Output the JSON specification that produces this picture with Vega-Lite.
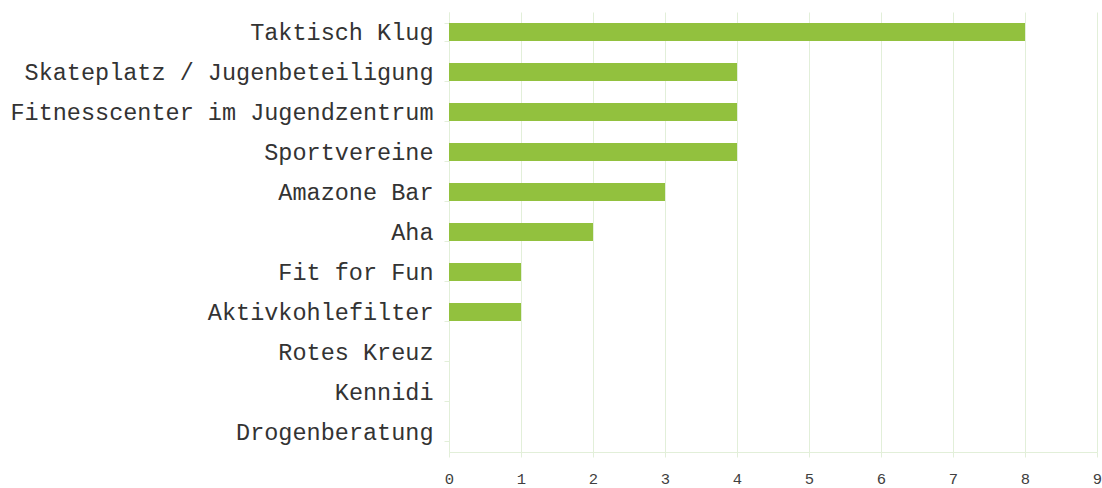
{
  "$schema": "https://vega.github.io/schema/vega-lite/v6.json",
  "width": 648,
  "height": 440,
  "autosize": "none",
  "padding": {"left": 449, "top": 12, "right": 5, "bottom": 36},
  "background": "white",
  "data": {"values": [
    {"name": "Taktisch Klug", "value": 8},
    {"name": "Skateplatz / Jugenbeteiligung", "value": 4},
    {"name": "Fitnesscenter im Jugendzentrum", "value": 4},
    {"name": "Sportvereine", "value": 4},
    {"name": "Amazone Bar", "value": 3},
    {"name": "Aha", "value": 2},
    {"name": "Fit for Fun", "value": 1},
    {"name": "Aktivkohlefilter", "value": 1},
    {"name": "Rotes Kreuz", "value": 0},
    {"name": "Kennidi", "value": 0},
    {"name": "Drogenberatung", "value": 0}
  ]},
  "mark": {"type": "bar", "color": "#92C13E"},
  "encoding": {
    "y": {
      "field": "name", "type": "nominal", "sort": null,
      "scale": {"paddingInner": 0.55, "paddingOuter": 0.275},
      "axis": {
        "title": null, "labelFont": "Courier New, Liberation Mono", "labelFontSize": 23.5, "labelLimit": 0,
        "labelColor": "#333333", "labelPadding": 11, "tickBand": "extent",
        "domainColor": "#E2EFD9", "tickColor": "#E2EFD9", "tickSize": 5, "grid": false
      }
    },
    "x": {
      "field": "value", "type": "quantitative",
      "scale": {"domain": [0, 9], "nice": false},
      "axis": {
        "title": null, "values": [0,1,2,3,4,5,6,7,8,9], "labelFont": "Courier New, Liberation Mono", "labelFontSize": 15.5,
        "labelColor": "#404040", "labelPadding": 14, "labelFlush": false, "grid": true, "gridColor": "#E2EFD9",
        "domainColor": "#E2EFD9", "tickColor": "#E2EFD9", "tickSize": 5
      }
    }
  },
  "config": {"view": {"stroke": null}}
}
